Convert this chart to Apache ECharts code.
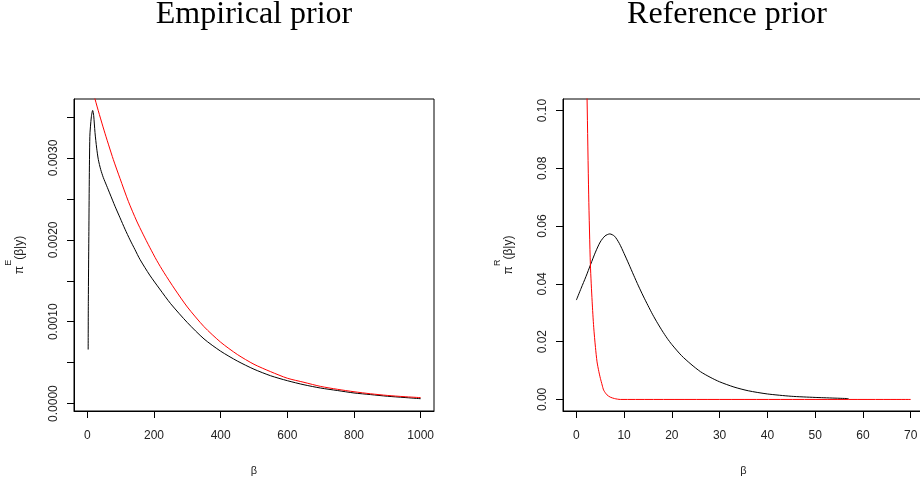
<!DOCTYPE html>
<html>
<head>
<meta charset="utf-8">
<script src="https://cdn.jsdelivr.net/npm/echarts@6/dist/echarts.min.js"></script>
<style>
html,body{margin:0;padding:0;background:#fff;}
#chart{width:920px;height:481px;}
</style>
</head>
<body>
<div id="chart"></div>
<script>
// ---------- Data ----------
var titles = ["Empirical prior", "Reference prior"];

// Left panel: empirical prior
var empBlackBeta = [2.5, 3, 4.5, 7.5, 12, 16, 19, 23, 28, 33, 40, 48, 58, 68, 83, 98, 113, 128, 143, 158, 187, 217, 250, 300, 350, 400, 450, 500, 550, 600, 650, 700, 750, 800, 850, 900, 950, 1000];
var empBlackVal  = [0.00066, 0.00125, 0.00204, 0.00326, 0.00350, 0.00358, 0.00352, 0.00331, 0.00312, 0.00298, 0.00286, 0.00276, 0.00266, 0.00256, 0.00241, 0.00227, 0.00213, 0.00200, 0.00188, 0.00176, 0.00157, 0.00140, 0.00122, 0.00099, 0.00079, 0.00064, 0.00052, 0.00042, 0.00034, 0.00028, 0.00023, 0.00019, 0.00016, 0.00013, 0.00011, 0.00009, 0.000075, 0.000060];
var empRedBeta = [0, 23, 50, 78, 98, 123, 148, 167, 187, 208, 230, 262, 300, 350, 400, 450, 500, 550, 600, 650, 700, 750, 800, 850, 900, 950, 1000];
var empRedVal  = [0.0041, 0.00372, 0.00334, 0.00298, 0.00275, 0.00247, 0.00223, 0.00207, 0.00191, 0.00175, 0.00160, 0.00140, 0.00118, 0.00094, 0.00075, 0.00060, 0.00048, 0.00039, 0.00031, 0.00026, 0.00021, 0.000175, 0.000145, 0.000120, 0.000100, 0.000085, 0.000073];

// Right panel: reference prior
var refBlackBeta = [0, 1, 2, 3, 4, 5, 6, 7, 8, 9, 10, 11, 12, 13, 14, 15, 16, 17, 18, 19, 20, 22, 24, 26, 28, 30, 33, 36, 40, 45, 50, 57];
var refBlackVal  = [0.0344, 0.0385, 0.0425, 0.0468, 0.0510, 0.0545, 0.0566, 0.0573, 0.0565, 0.0540, 0.0505, 0.0468, 0.0430, 0.0393, 0.0358, 0.0325, 0.0293, 0.0264, 0.0237, 0.0212, 0.0190, 0.0152, 0.0122, 0.0096, 0.0077, 0.0061, 0.0043, 0.0030, 0.0019, 0.0011, 0.0007, 0.0003];
var refRedBeta = [1.5, 2.0, 2.24, 2.58, 2.94, 3.3, 3.63, 4.0, 4.33, 4.7, 5.03, 5.4, 5.72, 6.4, 7.1, 8, 9.2, 70];
var refRedVal  = [0.19, 0.125, 0.104, 0.0708, 0.0465, 0.034, 0.0250, 0.0180, 0.0130, 0.0097, 0.0073, 0.0050, 0.0032, 0.0016, 0.0008, 0.0003, 0.0, 0.0];

// Tick values
var empXTicks = [0, 200, 400, 600, 800, 1000];
var empYTicks = [0, 0.0005, 0.001, 0.0015, 0.002, 0.0025, 0.003, 0.0035];
var empYLabels = [0, 0.001, 0.002, 0.003];
var refXTicks = [0, 10, 20, 30, 40, 50, 60, 70];
var refYTicks = [0, 0.02, 0.04, 0.06, 0.08, 0.1];

function pairs(xs, ys) { return xs.map(function (x, i) { return [x, ys[i]]; }); }

var labelFont = { fontFamily: 'Liberation Sans', fontSize: 12, color: '#222' };

function xAxisCfg(idx, min, max, ticks) {
  return {
    type: 'value', gridIndex: idx, min: min, max: max,
    name: 'β', nameLocation: 'middle', nameGap: 54,
    nameTextStyle: { fontFamily: 'Liberation Sans', fontSize: 11, color: '#222' },
    axisLine: { show: true, onZero: false, lineStyle: { color: '#000', width: 1 } },
    axisTick: { show: true, inside: false, length: 7, customValues: ticks, lineStyle: { color: '#000' } },
    axisLabel: Object.assign({ show: true, margin: 19, customValues: ticks, formatter: function (v) { return String(v); } }, labelFont),
    splitLine: { show: false }
  };
}

function yAxisCfg(idx, min, max, ticks, labels, dec, sup) {
  return {
    type: 'value', gridIndex: idx, min: min, max: max,
    name: '{n|π}{s|' + sup + '}{n|(β|y)}', nameLocation: 'middle', nameGap: 48, nameRotate: 90,
    nameTextStyle: {
      rich: {
        n: { fontFamily: 'Liberation Sans', fontSize: 12, color: '#222', lineHeight: 22, verticalAlign: 'bottom' },
        s: { fontFamily: 'Liberation Sans', fontSize: 9, color: '#222', lineHeight: 22, verticalAlign: 'top' }
      }
    },
    axisLine: { show: true, onZero: false, lineStyle: { color: '#000', width: 1 } },
    axisTick: { show: true, inside: false, length: 7, customValues: ticks, lineStyle: { color: '#000' } },
    axisLabel: Object.assign({ show: true, rotate: 90, margin: 14, customValues: labels, formatter: function (v) { return v.toFixed(dec); } }, labelFont),
    splitLine: { show: false }
  };
}

var chart = echarts.init(document.getElementById('chart'), null, { renderer: 'canvas' });
var lineBase = { type: 'line', showSymbol: false, clip: true, smooth: 0.25 };
var option = {
  animation: false,
  backgroundColor: '#fff',
  graphic: [
    { type: 'text', x: 254, y: 15, style: { text: titles[0], fontFamily: 'Liberation Serif', fontSize: 32, fill: '#000', align: 'center', verticalAlign: 'middle' } },
    { type: 'text', x: 727, y: 15, style: { text: titles[1], fontFamily: 'Liberation Serif', fontSize: 32, fill: '#000', align: 'center', verticalAlign: 'middle' } }
  ],
  grid: [
    { left: 74, top: 99, width: 360, height: 312, show: true, borderColor: '#000', borderWidth: 1, backgroundColor: 'transparent', containLabel: false, outerBoundsMode: 'none' },
    { left: 563, top: 99, width: 361, height: 312, show: true, borderColor: '#000', borderWidth: 1, backgroundColor: 'transparent', containLabel: false, outerBoundsMode: 'none' }
  ],
  xAxis: [
    xAxisCfg(0, -40, 1040, empXTicks),
    xAxisCfg(1, -2.8, 72.8, refXTicks)
  ],
  yAxis: [
    yAxisCfg(0, -0.0000902, 0.00372, empYTicks, empYLabels, 4, 'E'),
    yAxisCfg(1, -0.004, 0.104, refYTicks, refYTicks, 2, 'R')
  ],
  series: [
    Object.assign({}, lineBase, { xAxisIndex: 0, yAxisIndex: 0, data: pairs(empBlackBeta, empBlackVal), lineStyle: { color: '#000', width: 1 } }),
    Object.assign({}, lineBase, { xAxisIndex: 0, yAxisIndex: 0, data: pairs(empRedBeta, empRedVal), lineStyle: { color: '#ff0000', width: 1 } }),
    Object.assign({}, lineBase, { xAxisIndex: 1, yAxisIndex: 1, data: pairs(refBlackBeta, refBlackVal), lineStyle: { color: '#000', width: 1 } }),
    Object.assign({}, lineBase, { xAxisIndex: 1, yAxisIndex: 1, data: pairs(refRedBeta, refRedVal), lineStyle: { color: '#ff0000', width: 1 } })
  ]
};
chart.setOption(option);
</script>
</body>
</html>
